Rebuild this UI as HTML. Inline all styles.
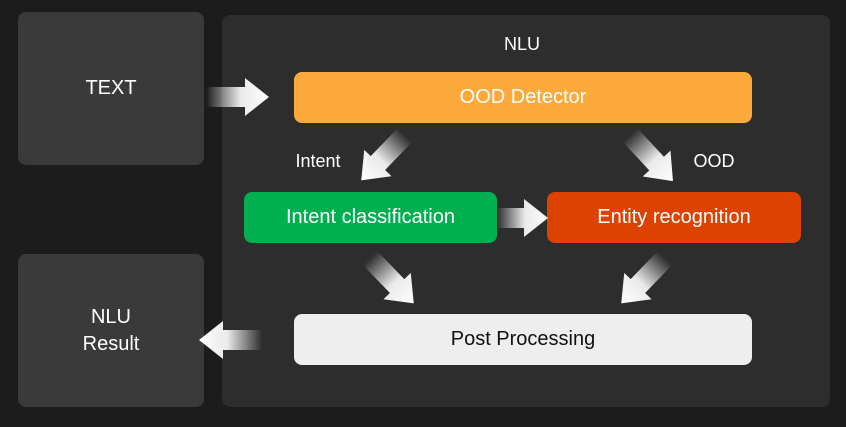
<!DOCTYPE html>
<html><head><meta charset="utf-8"><style>
html,body{margin:0;padding:0;background:#1c1c1c;}
body{width:846px;height:427px;overflow:hidden;position:relative;font-family:"Liberation Sans","Noto Sans CJK KR",sans-serif;}
.b{position:absolute;border-radius:8px;display:flex;align-items:center;justify-content:center;text-align:center;font-size:20px;color:#fff;}
</style></head><body>
<div class="b" style="left:18px;top:12px;width:186px;height:153px;background:#3a3a3a;">TEXT</div>
<div class="b" style="left:18px;top:254px;width:186px;height:153px;background:#3a3a3a;line-height:27px;">NLU<br>Result</div>
<div class="b" style="left:222px;top:15px;width:608px;height:392px;background:#2d2d2d;"></div>
<div class="b" style="left:222px;top:30px;width:600px;height:28px;font-size:18px;">NLU</div>
<div class="b" style="left:294px;top:72px;width:458px;height:51px;background:#fba93a;">OOD Detector</div>
<div class="b" style="left:244px;top:192px;width:253px;height:51px;background:#00b050;">Intent classification</div>
<div class="b" style="left:547px;top:192px;width:254px;height:51px;background:#dd4200;">Entity recognition</div>
<div class="b" style="left:294px;top:314px;width:458px;height:51px;background:#eeeeee;color:#111;">Post Processing</div>
<div class="b" style="left:280px;top:148px;width:76px;height:26px;font-size:18px;">Intent</div>
<div class="b" style="left:680px;top:148px;width:68px;height:26px;font-size:18px;">OOD</div>
<svg width="846" height="427" style="position:absolute;left:0;top:0">
<defs><linearGradient id="g" x1="0" y1="0" x2="1" y2="0">
<stop offset="0" stop-color="#fff" stop-opacity="0"/><stop offset="0.55" stop-color="#fff" stop-opacity="0.9"/><stop offset="1" stop-color="#fff"/></linearGradient>
<path id="a" d="M0,-10 L39,-10 L39,-19 L63,0 L39,19 L39,10 L0,10 Z" fill="url(#g)"/>
<path id="s" d="M0,-10 L27,-10 L27,-19 L51,0 L27,19 L27,10 L0,10 Z" fill="url(#g)"/>
</defs>
<use href="#a" transform="translate(206,97)"/>
<use href="#a" transform="translate(405,135) rotate(134)"/>
<use href="#a" transform="translate(630,135) rotate(47)"/>
<use href="#s" transform="translate(497,218)"/>
<use href="#a" transform="translate(370,258) rotate(46)"/>
<use href="#a" transform="translate(665,258) rotate(134)"/>
<use href="#a" transform="translate(262,340) rotate(180)"/>
</svg>
</body></html>
